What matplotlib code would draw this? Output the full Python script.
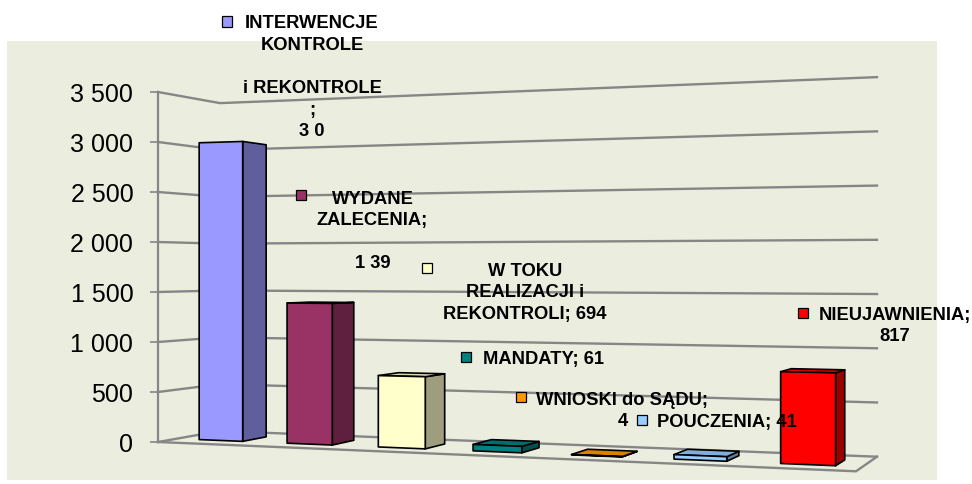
import numpy as np
import matplotlib.pyplot as plt
from matplotlib.patches import Polygon, Rectangle

plt.rcParams['font.family'] = ['Liberation Sans', 'DejaVu Sans']

# data
categories = ["INTERWENCJE KONTROLE i REKONTROLE", "WYDANE ZALECENIA",
              "W TOKU REALIZACJI i REKONTROLI", "MANDATY", "WNIOSKI do SĄDU",
              "POUCZENIA", "NIEUJAWNIENIA"]
values = [3010, 1392, 694, 61, 4, 41, 817]
colors = ['#9999FF', '#993366', '#FFFFCC', '#008080', '#FF9900', '#99CCFF', '#FF0000']
label_lines = [
    ["INTERWENCJE", "KONTROLE", "", "i REKONTROLE", ";", "3 0"],
    ["WYDANE", "ZALECENIA;", "", "1 39"],
    ["W TOKU", "REALIZACJI i", "REKONTROLI; 694"],
    ["MANDATY; 61"],
    ["WNIOSKI do SĄDU;", "4"],
    ["POUCZENIA; 41"],
    ["NIEUJAWNIENIA;", "817"],
]
y_ticks = [0, 500, 1000, 1500, 2000, 2500, 3000, 3500]

# layout (pixels) of the perspective box
W, H = 972, 484
FL, FR, BL, BR = (158, 442), (856, 471.3), (220, 431), (877, 456.7)
HORIZON = 268
PX_PER_UNIT = 0.1      # vertical pixels per unit at the front-left edge
N = len(values)
Z0, Z1 = 0.29, 0.69    # bar depth range
BX0, BX1 = 0.26, 0.76  # bar span inside its slot

# label placement: (centre x, first line centre y, marker x, marker y)
label_pos = [(312, 21.7, 227, 21.5), (372.5, 197, 300.5, 195.5),
             (525, 269, 427, 268), (543.5, 357, 466, 356.5),
             (622.5, 398, 520.5, 397), (727, 420, 642, 420),
             (895, 313, 803, 313)]
LINE_STEP = 21.6


def fit_h(src, dst):
    A, b = [], []
    for (x, y), (u, v) in zip(src, dst):
        A.append([x, y, 1, 0, 0, 0, -u * x, -u * y]); b.append(u)
        A.append([0, 0, 0, x, y, 1, -v * x, -v * y]); b.append(v)
    h = np.linalg.solve(np.array(A, float), np.array(b, float))
    return np.append(h, 1).reshape(3, 3)


Hm = fit_h([(0, 0), (1, 0), (0, 1), (1, 1)], [FL, FR, BL, BR])


def proj(X, Z, val):
    p = Hm @ np.array([X / N, Z, 1.0])
    u, vf = p[0] / p[2], p[1] / p[2]
    v = vf - val * PX_PER_UNIT * (vf - HORIZON) / (FL[1] - HORIZON)
    return u, (FL[1] - v) / PX_PER_UNIT


def shade(c, f):
    r, g, b = plt.matplotlib.colors.to_rgb(c)
    return (r * f, g * f, b * f)


fig = plt.figure(figsize=(W / 100, H / 100), dpi=100)
fig.add_artist(Rectangle((7 / W, 1 - 480 / H), 930 / W, 439 / H, transform=fig.transFigure,
                         fc='#ebeedf', ec='none', zorder=-1))
ax = fig.add_axes([0, 0, 1, 1])
ax.set_facecolor('none')
ax.set_xlim(0, W)
ax.set_ylim((FL[1] - H) / PX_PER_UNIT, FL[1] / PX_PER_UNIT)

grid_c = '#868686'
for t in y_ticks:
    pts = [proj(0, 0, t), proj(0, 1, t), proj(N, 1, t)]
    ax.plot([p[0] for p in pts], [p[1] for p in pts], color=grid_c, lw=1.7, zorder=1)
floor = [proj(0, 0, 0), proj(N, 0, 0), proj(N, 1, 0)]
ax.plot([p[0] for p in floor], [p[1] for p in floor], color=grid_c, lw=1.7, zorder=1)

for i, (val, c) in enumerate(zip(values, colors)):
    xa, xb = i + BX0, i + BX1
    front = [proj(xa, Z0, 0), proj(xb, Z0, 0), proj(xb, Z0, val), proj(xa, Z0, val)]
    side = [proj(xb, Z0, 0), proj(xb, Z1, 0), proj(xb, Z1, val), proj(xb, Z0, val)]
    top = [proj(xa, Z0, val), proj(xb, Z0, val), proj(xb, Z1, val), proj(xa, Z1, val)]
    kw = dict(ec='black', lw=1.2, joinstyle='round', zorder=3)
    ax.add_patch(Polygon(side, fc=shade(c, 0.62), **kw))
    if top[3][1] > top[0][1]:
        ax.add_patch(Polygon(top, fc=shade(c, 0.85), **kw))
    ax.add_patch(Polygon(front, fc=c, **kw))

# value axis at the front-left edge
for s in ['top', 'right', 'bottom']:
    ax.spines[s].set_visible(False)
ax.spines['left'].set_position(('data', FL[0]))
ax.spines['left'].set_bounds(0, 3500)
ax.spines['left'].set_color(grid_c)
ax.spines['left'].set_linewidth(1.6)
ax.set_xticks([])
ax.set_yticks(y_ticks)
ax.set_yticklabels([f"{t:,}".replace(",", " ") for t in y_ticks])
ax.tick_params(axis='y', length=5.8, width=1.2, color=grid_c, pad=12, labelsize=18)

# data labels with legend keys
for lines, (cx, cy, mx, my), c in zip(label_lines, label_pos, colors):
    for k, line in enumerate(lines):
        fig.text(cx / W, 1 - (cy + k * LINE_STEP + 6.6) / H, line, ha='center', va='baseline',
                 fontsize=13.2, fontweight='bold', zorder=5)
    fig.add_artist(Rectangle(((mx - 5) / W, 1 - (my + 5) / H), 10 / W, 10 / H,
                             transform=fig.transFigure, fc=c, ec='black', lw=0.9, zorder=5))

fig.savefig('out.png', dpi=100)
